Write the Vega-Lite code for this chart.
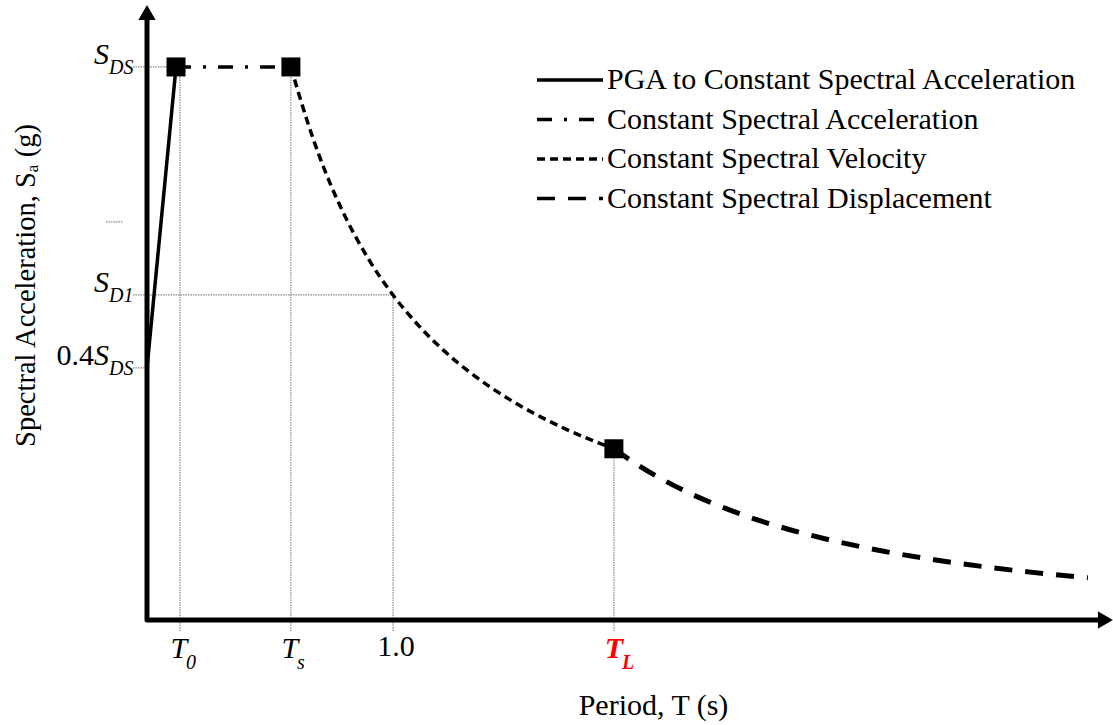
{
  "$schema": "https://vega.github.io/schema/vega-lite/v6.json",
  "width": 966,
  "height": 615,
  "autosize": {"type": "none"},
  "padding": {"left": 147, "top": 5, "right": 0, "bottom": 105},
  "background": "white",
  "config": {
    "view": {"stroke": null},
    "font": "Liberation Serif",
    "axis": {"domain": false, "ticks": false, "labels": false, "grid": false, "titleFont": "Liberation Serif", "titleFontWeight": "normal", "titleColor": "black"},
    "axisX": {"titleFontSize": 30, "titleX": 506, "titleY": 94, "titleAlign": "center", "titleBaseline": "alphabetic"},
    "axisY": {"titleFontSize": 28.5, "titleX": -113, "titleY": 280, "titleAngle": 270, "titleAlign": "center", "titleBaseline": "alphabetic"}
  },
  "datasets": {
    "curves": [
      {"T": 0, "Sa": 0.4557, "series": "PGA to Constant Spectral Acceleration"},
      {"T": 0.118, "Sa": 1.0, "series": "PGA to Constant Spectral Acceleration"},
      {"T": 0.118, "Sa": 1.0, "series": "Constant Spectral Acceleration"},
      {"T": 0.585, "Sa": 1.0, "series": "Constant Spectral Acceleration"},
      {"T": 0.585, "Sa": 1.0, "series": "Constant Spectral Velocity"},
      {"T": 0.65, "Sa": 0.9042, "series": "Constant Spectral Velocity"},
      {"T": 0.7, "Sa": 0.8396, "series": "Constant Spectral Velocity"},
      {"T": 0.75, "Sa": 0.7836, "series": "Constant Spectral Velocity"},
      {"T": 0.8, "Sa": 0.7346, "series": "Constant Spectral Velocity"},
      {"T": 0.9, "Sa": 0.653, "series": "Constant Spectral Velocity"},
      {"T": 1.0, "Sa": 0.5877, "series": "Constant Spectral Velocity"},
      {"T": 1.1, "Sa": 0.5343, "series": "Constant Spectral Velocity"},
      {"T": 1.2, "Sa": 0.4898, "series": "Constant Spectral Velocity"},
      {"T": 1.3, "Sa": 0.4521, "series": "Constant Spectral Velocity"},
      {"T": 1.4, "Sa": 0.4198, "series": "Constant Spectral Velocity"},
      {"T": 1.5, "Sa": 0.3918, "series": "Constant Spectral Velocity"},
      {"T": 1.6, "Sa": 0.3673, "series": "Constant Spectral Velocity"},
      {"T": 1.7, "Sa": 0.3457, "series": "Constant Spectral Velocity"},
      {"T": 1.8, "Sa": 0.3265, "series": "Constant Spectral Velocity"},
      {"T": 1.898, "Sa": 0.3096, "series": "Constant Spectral Velocity"}
    ],
    "disp": [
      {"T": 1.898, "Sa": 0.3096, "series": "Constant Spectral Displacement"},
      {"T": 2.0, "Sa": 0.2789, "series": "Constant Spectral Displacement"},
      {"T": 2.2, "Sa": 0.2305, "series": "Constant Spectral Displacement"},
      {"T": 2.4, "Sa": 0.1937, "series": "Constant Spectral Displacement"},
      {"T": 2.6, "Sa": 0.165, "series": "Constant Spectral Displacement"},
      {"T": 2.8, "Sa": 0.1423, "series": "Constant Spectral Displacement"},
      {"T": 3.0, "Sa": 0.1239, "series": "Constant Spectral Displacement"},
      {"T": 3.2, "Sa": 0.1089, "series": "Constant Spectral Displacement"},
      {"T": 3.4, "Sa": 0.0965, "series": "Constant Spectral Displacement"},
      {"T": 3.6, "Sa": 0.0861, "series": "Constant Spectral Displacement"},
      {"T": 3.825, "Sa": 0.0762, "series": "Constant Spectral Displacement"}
    ],
    "vg": [
      {"T": 0.134, "Sa": -0.02, "Sa2": 1.0},
      {"T": 0.585, "Sa": -0.02, "Sa2": 1.0},
      {"T": 1.0, "Sa": -0.02, "Sa2": 0.5877},
      {"T": 1.898, "Sa": -0.02, "Sa2": 0.3096}
    ],
    "hg": [
      {"Sa": 1.0, "T": -0.057, "T2": 0.118},
      {"Sa": 0.5877, "T": -0.057, "T2": 1.0},
      {"Sa": 0.4557, "T": -0.057, "T2": 0},
      {"Sa": 0.7197, "T": -0.167, "T2": -0.1}
    ],
    "axisline": [
      {"T": 0, "Sa": 1.09, "k": 1},
      {"T": 0, "Sa": 0, "k": 2},
      {"T": 3.89, "Sa": 0, "k": 3}
    ],
    "squares": [
      {"T": 0.118, "Sa": 1.0},
      {"T": 0.585, "Sa": 1.0},
      {"T": 1.898, "Sa": 0.3096}
    ],
    "arrowUp": [{"T": 0, "Sa": 1.0986}],
    "arrowRight": [{"T": 3.896, "Sa": 0}],
    "xmain": [{"T": 0.134, "Sa": 0, "txt": "T"}, {"T": 0.585, "Sa": 0, "txt": "T"}],
    "xsub": [{"T": 0.134, "Sa": 0, "txt": "0"}, {"T": 0.585, "Sa": 0, "txt": "s"}],
    "xplain": [{"T": 1.0, "Sa": 0, "txt": "1.0"}],
    "tlmain": [{"T": 1.898, "Sa": 0, "txt": "T"}],
    "tlsub": [{"T": 1.898, "Sa": 0, "txt": "L"}],
    "ymain": [{"T": 0, "Sa": 1.0, "txt": "S"}, {"T": 0, "Sa": 0.5877, "txt": "S"}, {"T": 0, "Sa": 0.4557, "txt": "S"}],
    "ysub": [{"T": 0, "Sa": 1.0, "txt": "DS"}, {"T": 0, "Sa": 0.5877, "txt": "D1"}, {"T": 0, "Sa": 0.4557, "txt": "DS"}],
    "yplain": [{"T": 0, "Sa": 0.4557, "txt": "0.4"}]
  },
  "layer": [
    {
      "data": {"name": "vg"},
      "mark": {"type": "rule", "color": "#8a8a8a", "strokeWidth": 1.2, "strokeDash": [1.5, 1]},
      "encoding": {
        "x": {"field": "T", "type": "quantitative", "scale": {"domain": [0, 3.927], "nice": false, "zero": false}, "title": "Period, T (s)"},
        "y": {"field": "Sa", "type": "quantitative", "scale": {"domain": [0, 1.112], "nice": false, "zero": false}, "title": "Spectral Acceleration, Sₐ (g)"},
        "y2": {"field": "Sa2"}
      }
    },
    {
      "data": {"name": "hg"},
      "mark": {"type": "rule", "color": "#8a8a8a", "strokeWidth": 1.2, "strokeDash": [1.5, 1]},
      "encoding": {
        "x": {"field": "T", "type": "quantitative", "scale": {"domain": [0, 3.927], "nice": false, "zero": false}, "title": "Period, T (s)"},
        "x2": {"field": "T2"},
        "y": {"field": "Sa", "type": "quantitative", "scale": {"domain": [0, 1.112], "nice": false, "zero": false}, "title": "Spectral Acceleration, Sₐ (g)"}
      }
    },
    {
      "data": {"name": "axisline"},
      "mark": {"type": "line", "color": "black", "strokeWidth": 5, "strokeJoin": "round"},
      "encoding": {
        "x": {"field": "T", "type": "quantitative", "scale": {"domain": [0, 3.927], "nice": false, "zero": false}, "title": "Period, T (s)"},
        "y": {"field": "Sa", "type": "quantitative", "scale": {"domain": [0, 1.112], "nice": false, "zero": false}, "title": "Spectral Acceleration, Sₐ (g)"},
        "order": {"field": "k", "type": "quantitative"}
      }
    },
    {
      "data": {"name": "curves"},
      "mark": {"type": "line", "color": "black", "strokeWidth": 3.5, "interpolate": "monotone"},
      "encoding": {
        "x": {"field": "T", "type": "quantitative", "scale": {"domain": [0, 3.927], "nice": false, "zero": false}, "title": "Period, T (s)"},
        "y": {"field": "Sa", "type": "quantitative", "scale": {"domain": [0, 1.112], "nice": false, "zero": false}, "title": "Spectral Acceleration, Sₐ (g)"},
        "strokeDash": {
          "field": "series", "type": "nominal",
          "scale": {
            "domain": ["PGA to Constant Spectral Acceleration", "Constant Spectral Acceleration", "Constant Spectral Velocity", "Constant Spectral Displacement"],
            "range": [[1, 0], [15, 12, 3, 12], [8, 5], [18, 13]]
          },
          "legend": {"orient": "none", "legendX": 388, "legendY": 60, "title": null, "padding": 0, "symbolType": "stroke", "symbolSize": 4356, "symbolStrokeColor": "black", "symbolStrokeWidth": 3.5, "labelFont": "Liberation Serif", "labelFontSize": 30, "labelColor": "black", "labelOffset": 2, "clipHeight": 30, "rowPadding": 9.5, "labelLimit": 700}
        }
      }
    },
    {
      "data": {"name": "disp"},
      "mark": {"type": "line", "color": "black", "strokeWidth": 5, "interpolate": "monotone"},
      "encoding": {
        "x": {"field": "T", "type": "quantitative", "scale": {"domain": [0, 3.927], "nice": false, "zero": false}, "title": "Period, T (s)"},
        "y": {"field": "Sa", "type": "quantitative", "scale": {"domain": [0, 1.112], "nice": false, "zero": false}, "title": "Spectral Acceleration, Sₐ (g)"},
        "strokeDash": {
          "field": "series", "type": "nominal",
          "scale": {
            "domain": ["PGA to Constant Spectral Acceleration", "Constant Spectral Acceleration", "Constant Spectral Velocity", "Constant Spectral Displacement"],
            "range": [[1, 0], [15, 12, 3, 12], [8, 5], [18, 13]]
          },
          "legend": {"orient": "none", "legendX": 388, "legendY": 60, "title": null, "padding": 0, "symbolType": "stroke", "symbolSize": 4356, "symbolStrokeColor": "black", "symbolStrokeWidth": 3.5, "labelFont": "Liberation Serif", "labelFontSize": 30, "labelColor": "black", "labelOffset": 2, "clipHeight": 30, "rowPadding": 9.5, "labelLimit": 700}
        }
      }
    },
    {
      "data": {"name": "squares"},
      "mark": {"type": "point", "shape": "square", "filled": true, "color": "black", "size": 361, "opacity": 1},
      "encoding": {
        "x": {"field": "T", "type": "quantitative", "scale": {"domain": [0, 3.927], "nice": false, "zero": false}, "title": "Period, T (s)"},
        "y": {"field": "Sa", "type": "quantitative", "scale": {"domain": [0, 1.112], "nice": false, "zero": false}, "title": "Spectral Acceleration, Sₐ (g)"}
      }
    },
    {
      "data": {"name": "arrowUp"},
      "mark": {"type": "point", "shape": "triangle-up", "filled": true, "color": "black", "size": 300, "opacity": 1},
      "encoding": {
        "x": {"field": "T", "type": "quantitative", "scale": {"domain": [0, 3.927], "nice": false, "zero": false}, "title": "Period, T (s)"},
        "y": {"field": "Sa", "type": "quantitative", "scale": {"domain": [0, 1.112], "nice": false, "zero": false}, "title": "Spectral Acceleration, Sₐ (g)"}
      }
    },
    {
      "data": {"name": "arrowRight"},
      "mark": {"type": "point", "shape": "triangle-right", "filled": true, "color": "black", "size": 300, "opacity": 1},
      "encoding": {
        "x": {"field": "T", "type": "quantitative", "scale": {"domain": [0, 3.927], "nice": false, "zero": false}, "title": "Period, T (s)"},
        "y": {"field": "Sa", "type": "quantitative", "scale": {"domain": [0, 1.112], "nice": false, "zero": false}, "title": "Spectral Acceleration, Sₐ (g)"}
      }
    },
    {
      "data": {"name": "xmain"},
      "mark": {"type": "text", "font": "Liberation Serif", "fontStyle": "italic", "fontSize": 30, "align": "center", "baseline": "alphabetic", "dx": -1, "dy": 38, "color": "black"},
      "encoding": {
        "x": {"field": "T", "type": "quantitative", "scale": {"domain": [0, 3.927], "nice": false, "zero": false}, "title": "Period, T (s)"},
        "y": {"field": "Sa", "type": "quantitative", "scale": {"domain": [0, 1.112], "nice": false, "zero": false}, "title": "Spectral Acceleration, Sₐ (g)"},
        "text": {"field": "txt"}
      }
    },
    {
      "data": {"name": "xsub"},
      "mark": {"type": "text", "font": "Liberation Serif", "fontStyle": "italic", "fontSize": 20, "align": "left", "baseline": "alphabetic", "dx": 6, "dy": 49, "color": "black"},
      "encoding": {
        "x": {"field": "T", "type": "quantitative", "scale": {"domain": [0, 3.927], "nice": false, "zero": false}, "title": "Period, T (s)"},
        "y": {"field": "Sa", "type": "quantitative", "scale": {"domain": [0, 1.112], "nice": false, "zero": false}, "title": "Spectral Acceleration, Sₐ (g)"},
        "text": {"field": "txt"}
      }
    },
    {
      "data": {"name": "xplain"},
      "mark": {"type": "text", "font": "Liberation Serif", "fontSize": 30, "align": "center", "baseline": "alphabetic", "dx": 3, "dy": 36, "color": "black"},
      "encoding": {
        "x": {"field": "T", "type": "quantitative", "scale": {"domain": [0, 3.927], "nice": false, "zero": false}, "title": "Period, T (s)"},
        "y": {"field": "Sa", "type": "quantitative", "scale": {"domain": [0, 1.112], "nice": false, "zero": false}, "title": "Spectral Acceleration, Sₐ (g)"},
        "text": {"field": "txt"}
      }
    },
    {
      "data": {"name": "tlmain"},
      "mark": {"type": "text", "font": "Liberation Serif", "fontStyle": "italic", "fontWeight": "bold", "fontSize": 30, "align": "center", "baseline": "alphabetic", "dx": 0, "dy": 38, "color": "#ff0000"},
      "encoding": {
        "x": {"field": "T", "type": "quantitative", "scale": {"domain": [0, 3.927], "nice": false, "zero": false}, "title": "Period, T (s)"},
        "y": {"field": "Sa", "type": "quantitative", "scale": {"domain": [0, 1.112], "nice": false, "zero": false}, "title": "Spectral Acceleration, Sₐ (g)"},
        "text": {"field": "txt"}
      }
    },
    {
      "data": {"name": "tlsub"},
      "mark": {"type": "text", "font": "Liberation Serif", "fontStyle": "italic", "fontWeight": "bold", "fontSize": 20, "align": "left", "baseline": "alphabetic", "dx": 8, "dy": 49, "color": "#ff0000"},
      "encoding": {
        "x": {"field": "T", "type": "quantitative", "scale": {"domain": [0, 3.927], "nice": false, "zero": false}, "title": "Period, T (s)"},
        "y": {"field": "Sa", "type": "quantitative", "scale": {"domain": [0, 1.112], "nice": false, "zero": false}, "title": "Spectral Acceleration, Sₐ (g)"},
        "text": {"field": "txt"}
      }
    },
    {
      "data": {"name": "ymain"},
      "mark": {"type": "text", "font": "Liberation Serif", "fontStyle": "italic", "fontSize": 30, "align": "right", "baseline": "alphabetic", "dx": -38, "dy": -3, "color": "black"},
      "encoding": {
        "x": {"field": "T", "type": "quantitative", "scale": {"domain": [0, 3.927], "nice": false, "zero": false}, "title": "Period, T (s)"},
        "y": {"field": "Sa", "type": "quantitative", "scale": {"domain": [0, 1.112], "nice": false, "zero": false}, "title": "Spectral Acceleration, Sₐ (g)"},
        "text": {"field": "txt"}
      }
    },
    {
      "data": {"name": "ysub"},
      "mark": {"type": "text", "font": "Liberation Serif", "fontStyle": "italic", "fontSize": 20, "align": "left", "baseline": "alphabetic", "dx": -38, "dy": 7, "color": "black"},
      "encoding": {
        "x": {"field": "T", "type": "quantitative", "scale": {"domain": [0, 3.927], "nice": false, "zero": false}, "title": "Period, T (s)"},
        "y": {"field": "Sa", "type": "quantitative", "scale": {"domain": [0, 1.112], "nice": false, "zero": false}, "title": "Spectral Acceleration, Sₐ (g)"},
        "text": {"field": "txt"}
      }
    },
    {
      "data": {"name": "yplain"},
      "mark": {"type": "text", "font": "Liberation Serif", "fontSize": 30, "align": "right", "baseline": "alphabetic", "dx": -53, "dy": -3, "color": "black"},
      "encoding": {
        "x": {"field": "T", "type": "quantitative", "scale": {"domain": [0, 3.927], "nice": false, "zero": false}, "title": "Period, T (s)"},
        "y": {"field": "Sa", "type": "quantitative", "scale": {"domain": [0, 1.112], "nice": false, "zero": false}, "title": "Spectral Acceleration, Sₐ (g)"},
        "text": {"field": "txt"}
      }
    }
  ]
}
